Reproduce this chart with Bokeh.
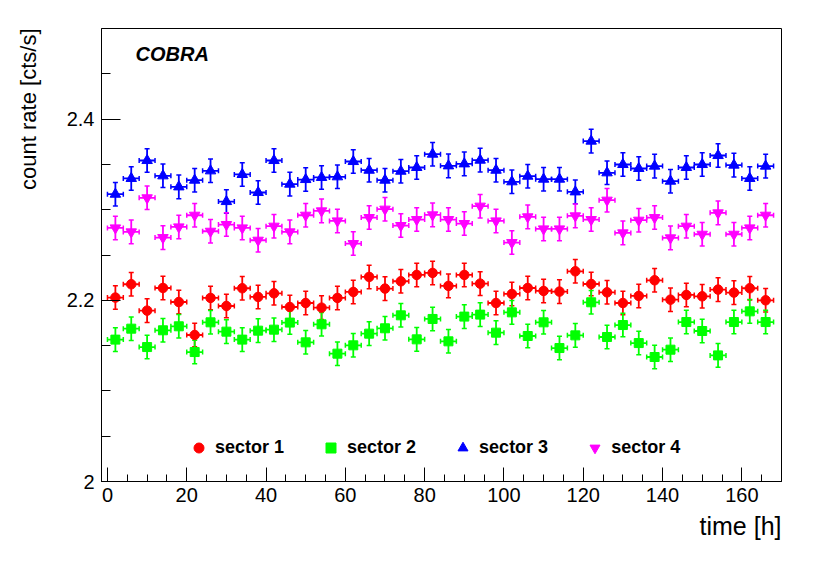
import math
from bokeh.plotting import figure
from bokeh.models import (ColumnDataSource, Range1d, SingleIntervalTicker, Label, Title,
                          Legend, LegendItem, Whisker, TeeHead, CustomJSTickFormatter)
from bokeh.embed import file_html
from bokeh.resources import INLINE

# ---------------- data ----------------
time_h = [2, 6, 10, 14, 18, 22, 26, 30, 34, 38, 42, 46, 50, 54, 58, 62, 66, 70, 74, 78, 82,
          86, 90, 94, 98, 102, 106, 110, 114, 118, 122, 126, 130, 134, 138, 142, 146, 150,
          154, 158, 162, 166]
time_err = 2.0
rate_err = 0.013

sector1 = [2.2030, 2.2177, 2.1886, 2.2136, 2.1981, 2.1617, 2.2026, 2.1937, 2.2133, 2.2037,
           2.2077, 2.1926, 2.1970, 2.1919, 2.2026, 2.2092, 2.2258, 2.2129, 2.2210, 2.2280,
           2.2302, 2.2159, 2.2280, 2.2184, 2.1970, 2.2070, 2.2136, 2.2103, 2.2096, 2.2320,
           2.2180, 2.2088, 2.1970, 2.2048, 2.2221, 2.2007, 2.2059, 2.2044, 2.2118, 2.2085,
           2.2133, 2.2000]
sector2 = [2.1566, 2.1687, 2.1484, 2.1669, 2.1713, 2.1429, 2.1757, 2.1654, 2.1566, 2.1665,
           2.1676, 2.1754, 2.1536, 2.1735, 2.1411, 2.1503, 2.1632, 2.1691, 2.1834, 2.1569,
           2.1794, 2.1547, 2.1820, 2.1842, 2.1643, 2.1867, 2.1606, 2.1757, 2.1473, 2.1613,
           2.1978, 2.1595, 2.1727, 2.1528, 2.1374, 2.1455, 2.1760, 2.1661, 2.1392, 2.1760,
           2.1878, 2.1760]
sector3 = [2.3171, 2.3345, 2.3543, 2.3374, 2.3252, 2.3326, 2.3429, 2.3090, 2.3389, 2.3190,
           2.3543, 2.3282, 2.3333, 2.3356, 2.3363, 2.3532, 2.3436, 2.3326, 2.3425, 2.3466,
           2.3613, 2.3484, 2.3506, 2.3547, 2.3436, 2.3308, 2.3370, 2.3337, 2.3337, 2.3197,
           2.3757, 2.3407, 2.3499, 2.3455, 2.3481, 2.3315, 2.3466, 2.3499, 2.3598, 2.3492,
           2.3345, 2.3481]
sector4 = [2.2799, 2.2755, 2.3131, 2.2692, 2.2810, 2.2939, 2.2762, 2.2836, 2.2799, 2.2663,
           2.2818, 2.2755, 2.2939, 2.2987, 2.2876, 2.2626, 2.2913, 2.3006, 2.2825, 2.2891,
           2.2943, 2.2891, 2.2847, 2.3039, 2.2876, 2.2637, 2.2921, 2.2788, 2.2788, 2.2932,
           2.2891, 2.3105, 2.2744, 2.2884, 2.2913, 2.2689, 2.2818, 2.2729, 2.2965, 2.2729,
           2.2799, 2.2939]

series_names = ["sector 1", "sector 2", "sector 3", "sector 4"]
series_values = [sector1, sector2, sector3, sector4]
series_colors = ["#ff0000", "#00ff00", "#0000ff", "#ff00ff"]
series_markers = ["circle", "square", "triangle", "inverted_triangle"]
series_sizes = [9.5, 9, 10.5, 10.5]

x_title = "time [h]"
y_title = "count rate [cts/s]"

FONT = "Liberation Sans"

# ---------------- figure ----------------
p = figure(width=820, height=571, x_range=Range1d(-1.5, 170), y_range=Range1d(2.0, 2.5),
           output_backend="svg", toolbar_location=None,
           min_border_left=99, min_border_right=39, min_border_top=28, min_border_bottom=90)
p.background_fill_color = "white"
p.border_fill_color = "white"
p.outline_line_color = "black"
p.outline_line_width = 1
p.xgrid.visible = False
p.ygrid.visible = False

p.xaxis.ticker = SingleIntervalTicker(interval=20, num_minor_ticks=4)
p.yaxis.ticker = SingleIntervalTicker(interval=0.2, num_minor_ticks=4)
p.yaxis.formatter = CustomJSTickFormatter(code="return Number(tick.toFixed(2)).toString();")

for ax in (p.xaxis[0], p.yaxis[0]):
    ax.axis_line_color = "black"
    ax.major_tick_line_color = "black"
    ax.minor_tick_line_color = "black"
    ax.major_tick_out = 0
    ax.minor_tick_out = 0
    ax.major_label_text_font = FONT
    ax.major_label_text_font_size = "20px"
    ax.major_label_text_color = "black"
p.xaxis.major_tick_in = 14
p.xaxis.minor_tick_in = 7
p.xaxis.major_label_standoff = 6
p.yaxis.major_tick_in = 19
p.yaxis.minor_tick_in = 9
p.yaxis.major_label_standoff = 7

has_align = "axis_label_align" in p.yaxis[0].properties()
if has_align:
    xa, ya = p.xaxis[0], p.yaxis[0]
    xa.axis_label = x_title
    ya.axis_label = y_title
    for ax in (xa, ya):
        ax.axis_label_align = "end"
        ax.axis_label_text_font = FONT
        ax.axis_label_text_font_style = "normal"
        ax.axis_label_text_color = "black"
    # numeric orientation -> label is end-aligned at the axis end
    xa.axis_label_orientation = 0.0
    ya.axis_label_orientation = math.pi / 2
    xa.axis_label_text_font_size = "25px"
    ya.axis_label_text_font_size = "22px"
    xa.axis_label_standoff = 21
    ya.axis_label_standoff = 35
else:
    p.add_layout(Title(text=y_title, align="right", text_font=FONT,
                       text_font_style="normal", text_font_size="22px", text_color="black",
                       standoff=35), "left")
    p.add_layout(Title(text=x_title, align="right", text_font=FONT,
                       text_font_style="normal", text_font_size="25px", text_color="black",
                       standoff=11), "below")

# ---------------- series ----------------
items = []
for name, vals, col, mk, sz in zip(series_names, series_values, series_colors,
                                   series_markers, series_sizes):
    src = ColumnDataSource(dict(
        x=time_h, y=vals,
        xl=[t - time_err for t in time_h], xu=[t + time_err for t in time_h],
        yl=[v - rate_err for v in vals], yu=[v + rate_err for v in vals]))
    for base, lo, up, dim in (("x", "yl", "yu", "height"), ("y", "xl", "xu", "width")):
        w = Whisker(source=src, base=base, lower=lo, upper=up, dimension=dim,
                    line_color=col, line_width=1.8,
                    lower_head=TeeHead(size=5, line_color=col, line_width=1.5),
                    upper_head=TeeHead(size=5, line_color=col, line_width=1.5))
        p.add_layout(w)
    r = p.scatter("x", "y", source=src, marker=mk, size=sz, fill_color=col, line_color=col)
    items.append(LegendItem(label=name, renderers=[r]))

legend = Legend(items=items, orientation="horizontal", location=(85, 21),
                glyph_width=25, glyph_height=25, label_standoff=4, spacing=34,
                padding=0, margin=0, border_line_color=None, background_fill_alpha=0,
                label_text_font=FONT, label_text_font_style="bold",
                label_text_font_size="18px", label_text_color="black")
p.add_layout(legend)

# ---------------- texts ----------------
p.add_layout(Label(x=34, y=428, x_units="screen", y_units="screen", text="COBRA",
                   text_align="left", text_baseline="alphabetic", text_font=FONT,
                   text_font_style="bold italic", text_font_size="20px", text_color="black"))

open("out.html", "w").write(file_html(p, INLINE))
